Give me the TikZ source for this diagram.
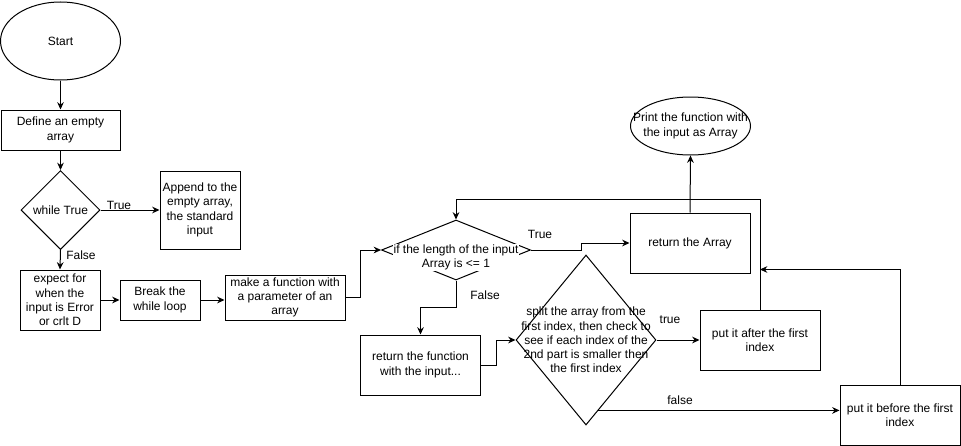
\documentclass[tikz,border=0pt]{standalone}
\usepackage{fontspec}
\setmainfont{Liberation Sans}
\usetikzlibrary{shapes.geometric,arrows.meta,calc}
\begin{document}
\begin{tikzpicture}[x=0.75pt,y=-0.75pt,
  every node/.style={font=\fontsize{9}{10.7}\selectfont, inner sep=0pt, align=center},
  box/.style={draw, line width=0.75pt, rectangle},
  oval/.style={draw, line width=0.75pt, ellipse},
  dia/.style={draw, line width=0.75pt, diamond},
  lbl/.style={font=\fontsize{9}{10.7}\selectfont},
  arr/.style={draw, line width=0.75pt, -{Stealth[length=5.5pt,width=5pt]}}
]
\useasboundingbox (0,0) rectangle (961,446);

% nodes
\node[oval, minimum width=90pt, minimum height=58.5pt] (start) at (60.5,41) {Start};
\node[box, minimum width=89.25pt, minimum height=30pt] (define) at (60.5,130) {Define an empty\\array};
\node[dia, minimum width=59.25pt, minimum height=59.25pt] (while) at (60.5,210) {};
\node (whiletxt) at (60.5,210) {while True};
\node[box, minimum width=60pt, minimum height=58.5pt] (append) at (200,210) {Append to the\\empty array,\\the standard\\input};
\node[box, minimum width=60pt, minimum height=45pt] (expect) at (60,300) {expect for\\when the\\input is Error\\or crlt D};
\node[box, minimum width=60pt, minimum height=30pt] (break) at (160,300) {Break the\\while loop};
\node[box, minimum width=90pt, minimum height=33.75pt] (make) at (285,297.5) {make a function with\\a parameter of an\\array};
\node[dia, minimum width=111.75pt, minimum height=45pt] (ifd) at (456,250) {};
\node[fill=white, inner sep=0.5pt] (iftxt) at (456,257.5) {if the length of the input\\Array is <= 1};
\node[box, minimum width=90pt, minimum height=45pt] (retarr) at (690,243) {return the Array};
\node[oval, minimum width=90pt, minimum height=43.5pt] (print) at (690.5,126) {};
\node (printtxt) at (690.5,126) {Print the function with\\the input as Array};
\node[box, minimum width=90pt, minimum height=45pt] (retfn) at (420.5,365) {return the function\\with the input...};
\node[dia, minimum width=105pt, minimum height=127.5pt] (split) at (586,340) {};
\node (splittxt) at (586,340) {split the array from the\\first index, then check to\\see if each index of the\\2nd part is smaller then\\the first index};
\node[box, minimum width=90pt, minimum height=45pt] (after) at (760,340) {put it after the first\\index};
\node[box, minimum width=90pt, minimum height=45pt] (before) at (900,415) {put it before the first\\index};

% labels
\node[lbl] (lTrue1) at (119,205) {True};
\node[lbl] (lFalse1) at (81,255) {False};
\node[lbl] (lTrue2) at (540,234) {True};
\node[lbl] (lFalse2) at (485,295) {False};
\node[lbl] (ltrue3) at (670,320) {true};
\node[lbl] (lfalse4) at (680,400) {false};

% connectors
\draw[arr] (start.south) -- (define.north);
\draw[arr] (define.south) -- (while.north);
\draw[arr] (while.east) -- (append.west);
\draw[arr] (while.south) -- (expect.north);
\draw[arr] (expect.east) -- (break.west);
\draw[arr] (break.east) -- (break.east -| make.west);
\draw[arr] (make.east) -- ++(15,0) |- (ifd.west);
\draw[arr] (ifd.east) -- ++(50,0) |- (retarr.west);
\draw[arr] (retarr.north) -- (print.south);
\draw[arr] (ifd.south) -- ++(0,27) -| (retfn.north);
\draw[arr] (retfn.east) -- ++(15,0) |- (split.west);
\draw[arr] (split.east) -- (after.west);
\coordinate (fstart) at ($(split.south)!0.1765!(split.east)$);
\draw[arr] (fstart) -- (fstart -| before.west);
\draw[arr] (after.north) -- ++(0,-110) -| (ifd.north);
\draw[arr] (before.north) -- ++(0,-115) coordinate (bk) -- (bk -| after.north);
\end{tikzpicture}
\end{document}
